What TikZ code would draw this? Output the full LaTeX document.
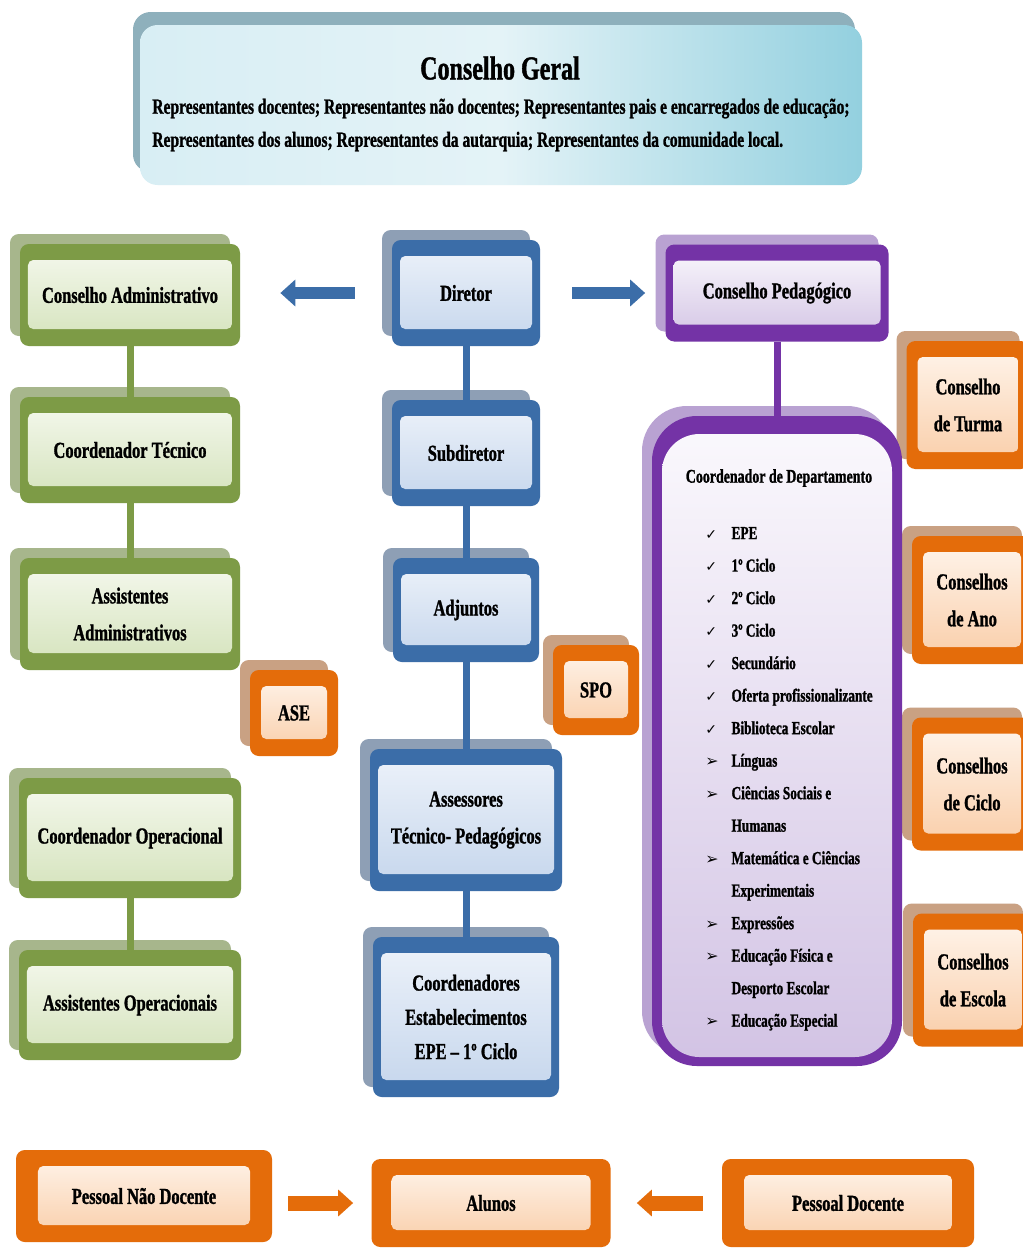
\documentclass[tikz,border=0pt]{standalone}
\usepackage{fontspec}
\setmainfont[FakeStretch=0.72, BoldFont={Liberation Serif Bold}, BoldFeatures={FakeBold=1.2}]{Liberation Serif}
\newfontfamily\tickfont{DejaVu Sans}
\usetikzlibrary{shadows,arrows.meta}

\definecolor{grnframe}{HTML}{7D9B46}
\definecolor{grnshade}{HTML}{A7B68C}
\definecolor{grnhi}{HTML}{F6F9EF}
\definecolor{grnlo}{HTML}{D3E2BA}
\definecolor{bluframe}{HTML}{3B6DA8}
\definecolor{blushade}{HTML}{8E9FB5}
\definecolor{bluhi}{HTML}{EEF3FA}
\definecolor{blulo}{HTML}{C4D5EC}
\definecolor{purframe}{HTML}{7433A6}
\definecolor{purshade}{HTML}{B9A2D2}
\definecolor{purhi}{HTML}{FBF9FD}
\definecolor{purlo}{HTML}{D2C3E4}
\definecolor{orgframe}{HTML}{E46C0A}
\definecolor{orgshade}{HTML}{C9A183}
\definecolor{orghi}{HTML}{FFF6EE}
\definecolor{orglo}{HTML}{F9CCA6}
\definecolor{cgleft}{HTML}{D8EEF4}
\definecolor{cgmid}{HTML}{E4F3F7}
\definecolor{cgright}{HTML}{93D0DF}
\definecolor{cgshade}{HTML}{8EB0BC}

\newcommand\chkmark{{\tickfont\fontsize{8}{10}\selectfont ✓}}
\newcommand\arrmark{{\tickfont\fontsize{9}{10}\selectfont ➢}}

\begin{document}
\begin{tikzpicture}[x=0.02cm, y=-0.02cm,
    wh/.style 2 args={minimum width=#1*0.02cm, minimum height=#2*0.02cm},
    inset/.style n args={3}{path picture={\shade[rounded corners=3pt, top color=#1, bottom color=#2]
        ([xshift=#3, yshift=-0.32cm]path picture bounding box.north west) rectangle
        ([xshift=-#3, yshift=0.34cm]path picture bounding box.south east);}},
    card/.style = {rounded corners=5pt, inner sep=0pt, align=center, font=\bfseries\fontsize{13}{21}\selectfont},
    back/.style = {drop shadow={shadow xshift=-0.2cm, shadow yshift=0.2cm, opacity=1, fill=#1}},
    grn/.style = {card, fill=grnframe, inset={grnhi}{grnlo}{0.16cm}, back=grnshade},
    blu/.style = {card, fill=bluframe, inset={bluhi}{blulo}{0.16cm}, back=blushade},
    pur/.style = {card, fill=purframe, inset={purhi}{purlo}{0.16cm}, back=purshade},
    org/.style = {card, fill=orgframe, inset={orghi}{orglo}{0.22cm}, back=orgshade},
    orgwide/.style = {card, fill=orgframe, inset={orghi}{orglo}{0.44cm}},
    link/.style = {line width=0.14cm, #1},
    fat/.style = {line width=0.24cm, #1, -{Triangle[length=0.3cm, width=0.52cm]}},
]
    \path[use as bounding box, fill=white] (0,0) rectangle (1023,1255);

    \node[rounded corners=10pt, wh={722}{160}, left color=cgleft, right color=cgright, middle color=cgmid,
        drop shadow={shadow xshift=-0.14cm, shadow yshift=0.26cm, opacity=1, fill=cgshade}] (cg) at (501,105) {};
    \node[font=\bfseries\fontsize{19}{23}\selectfont] (cgt) at (500,68) {Conselho Geral};
    \node[anchor=west, align=left, inner sep=0pt, font=\bfseries\fontsize{12.3}{18.8}\selectfont] (cgr) at (152,125)
        {Representantes docentes; Representantes não docentes; Representantes pais e encarregados de educação;\\
         Representantes dos alunos; Representantes da autarquia; Representantes da comunidade local.};

    \node[grn, wh={220}{102}] (cadm) at (130,295) {Conselho Administrativo};
    \node[grn, wh={220}{106}] (ctec) at (130,450) {Coordenador Técnico};
    \node[grn, wh={220}{112}] (aadm) at (130,614) {Assistentes\\Administrativos};
    \node[grn, wh={222}{120}] (cop) at (130,838) {Coordenador Operacional};
    \node[grn, wh={222}{110}] (aop) at (130,1005) {Assistentes Operacionais};

    \node[blu, wh={148}{106}] (dir) at (466,293) {Diretor};
    \node[blu, wh={148}{106}] (sub) at (466,453) {Subdiretor};
    \node[blu, wh={146}{104}] (adj) at (466,610) {Adjuntos};
    \node[blu, wh={192}{142}] (ass) at (466,820) {Assessores\\Técnico- Pedagógicos};
    \node[blu, wh={186}{160}, font=\bfseries\fontsize{13}{19.5}\selectfont] (coo) at (466,1017)
        {Coordenadores\\Estabelecimentos\\EPE – 1º Ciclo};

    \node[org, wh={88}{86}] (ase) at (294,713) {ASE};
    \node[org, wh={86}{90}] (spo) at (596,690) {SPO};
    \node[org, wh={123}{128}] (ctur) at (968,405) {Conselho\\de Turma};
    \node[org, wh={120}{128}] (cano) at (972,600) {Conselhos\\de Ano};
    \node[org, wh={120}{133}] (cciclo) at (972,784) {Conselhos\\de Ciclo};
    \node[org, wh={120}{133}] (cesc) at (973,980) {Conselhos\\de Escola};

    \node[pur, wh={223}{97}] (cped) at (777,293) {Conselho Pedagógico};
    \node[pur, wh={250}{650}, rounded corners=0.9cm,
        path picture={\shade[rounded corners=0.75cm, top color=purhi, bottom color=purlo]
            ([xshift=0.2cm, yshift=-0.36cm]path picture bounding box.north west) rectangle
            ([xshift=-0.2cm, yshift=0.18cm]path picture bounding box.south east);}] (dep) at (777,741) {};
    \node[font=\bfseries\fontsize{11}{13}\selectfont] (dtit) at (779,478) {Coordenador de Departamento};
    \node[anchor=north west, inner sep=0pt, font=\bfseries\fontsize{10.5}{18.5}\selectfont] (dlist) at (705,516)
        {\begin{tabular}{@{}l@{\hspace{2.6mm}}l@{}}
            \chkmark & EPE\\
            \chkmark & 1º Ciclo\\
            \chkmark & 2º Ciclo\\
            \chkmark & 3º Ciclo\\
            \chkmark & Secundário\\
            \chkmark & Oferta profissionalizante\\
            \chkmark & Biblioteca Escolar\\
            \arrmark & Línguas\\
            \arrmark & Ciências Sociais e\\
                     & Humanas\\
            \arrmark & Matemática e Ciências\\
                     & Experimentais\\
            \arrmark & Expressões\\
            \arrmark & Educação Física e\\
                     & Desporto Escolar\\
            \arrmark & Educação Especial
        \end{tabular}};

    \node[orgwide, wh={256}{92}] (pnd) at (144,1196) {Pessoal Não Docente};
    \node[orgwide, wh={239}{88}, inset={orghi}{orglo}{0.4cm}] (alu) at (491,1203) {Alunos};
    \node[orgwide, wh={252}{88}] (pdoc) at (848,1203) {Pessoal Docente};

    \draw[link=grnframe] (cadm) -- (ctec);
    \draw[link=grnframe] (ctec) -- (aadm);
    \draw[link=grnframe] (cop) -- (aop);
    \draw[link=bluframe] (dir) -- (sub);
    \draw[link=bluframe] (sub) -- (adj);
    \draw[link=bluframe] (adj) -- (ass);
    \draw[link=bluframe] (ass) -- (coo);
    \draw[link=purframe] (cped) -- (dep);

    \draw[fat=bluframe, shorten <=0.74cm, shorten >=0.8cm] (dir.west) -- (dir.west -| cadm.east);
    \draw[fat=bluframe, shorten <=0.64cm, shorten >=0.4cm] (dir.east) -- (dir.east -| cped.west);
    \draw[fat=orgframe, line width=0.3cm, shorten <=0.32cm, shorten >=0.36cm] (alu.west -| pnd.east) -- (alu.west);
    \draw[fat=orgframe, line width=0.3cm, shorten <=0.38cm, shorten >=0.52cm] (pdoc.west) -- (pdoc.west -| alu.east);
\end{tikzpicture}
\end{document}
